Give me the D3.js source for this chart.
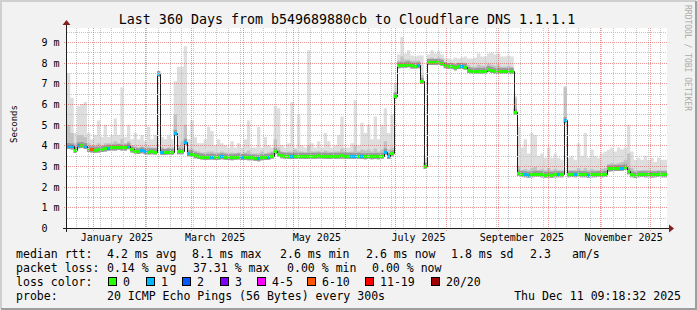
<!DOCTYPE html>
<html>
<head>
<meta charset="utf-8">
<script src="https://cdn.jsdelivr.net/npm/d3@7"></script>
<style>
  body { margin: 0; background: #fff; }
  svg text { font-family: "DejaVu Sans Mono", monospace; }
</style>
</head>
<body>
<script>
// median rtt (ms) per 2-day step
var medianRtt = [
  3.97, 3.95, 3.77, 4.0, 4.02, 3.97, 3.82, 3.8, 3.79, 3.8,
  3.82, 3.85, 3.88, 3.9, 3.9, 3.92, 3.9, 3.9, 3.96, 3.8,
  3.75, 3.73, 3.76, 3.72, 3.7, 3.72, 3.7, 7.45, 3.69, 3.68,
  3.7, 3.69, 4.61, 3.72, 3.72, 4.18, 3.62, 3.6, 3.52, 3.48,
  3.46, 3.44, 3.45, 3.46, 3.44, 3.45, 3.47, 3.45, 3.44, 3.43,
  3.45, 3.46, 3.44, 3.45, 3.43, 3.42, 3.4, 3.38, 3.42, 3.44,
  3.45, 3.5, 3.74, 3.6, 3.52, 3.5, 3.5, 3.49, 3.5, 3.5,
  3.5, 3.49, 3.5, 3.5, 3.5, 3.51, 3.5, 3.5, 3.49, 3.5,
  3.5, 3.5, 3.51, 3.5, 3.5, 3.5, 3.49, 3.5, 3.48, 3.47,
  3.48, 3.47, 3.48, 3.47, 3.5, 3.7, 3.48, 3.62, 6.4, 7.88,
  7.9, 7.9, 7.93, 7.87, 7.86, 7.88, 7.11, 3.0, 8.03, 8.04,
  8.03, 8.03, 8.0, 7.88, 7.84, 7.84, 7.78, 7.84, 7.84, 7.8,
  7.65, 7.61, 7.6, 7.61, 7.6, 7.62, 7.69, 7.65, 7.6, 7.61,
  7.6, 7.6, 7.61, 7.6, 5.63, 2.68, 2.62, 2.6, 2.58, 2.6,
  2.62, 2.63, 2.6, 2.58, 2.59, 2.58, 2.6, 2.6, 2.6, 5.22,
  2.6, 2.61, 2.6, 2.62, 2.6, 2.6, 2.58, 2.6, 2.6, 2.61,
  2.6, 2.62, 2.88, 2.89, 2.9, 2.9, 2.92, 2.96, 2.75, 2.6,
  2.56, 2.6, 2.61, 2.6, 2.6, 2.59, 2.6, 2.61, 2.6, 2.6
];

// top of the dense (dark) smoke
var smokeMid = [
  5.0, 4.6, 4.1, 4.5, 4.5, 4.4, 4.1, 4.0, 4.0, 4.1,
  4.0, 4.1, 4.1, 4.1, 4.2, 4.1, 4.3, 4.1, 4.2, 4.0,
  3.95, 3.9, 3.95, 3.9, 3.95, 3.9, 3.9, 7.45, 3.9, 3.85,
  3.9, 3.9, 5.5, 4.0, 4.2, 5.0, 3.85, 3.85, 3.75, 3.7,
  3.65, 3.65, 3.7, 3.7, 3.65, 3.65, 3.7, 3.65, 3.62, 3.65,
  3.62, 3.65, 3.6, 3.65, 3.75, 3.6, 3.6, 3.62, 3.7, 3.62,
  3.65, 3.7, 4.3, 3.9, 3.7, 3.68, 3.7, 3.7, 3.8, 3.72,
  3.7, 3.68, 4.0, 3.7, 3.7, 3.72, 3.68, 3.75, 3.7, 3.68,
  3.7, 3.72, 3.85, 3.7, 3.68, 3.7, 4.0, 3.7, 3.8, 3.75,
  3.8, 3.7, 3.85, 3.7, 3.8, 4.2, 3.8, 3.9, 6.6, 8.1,
  8.3, 8.15, 8.15, 8.1, 8.1, 8.1, 7.4, 3.2, 8.2, 8.25,
  8.2, 8.25, 8.2, 8.0, 7.98, 7.95, 7.95, 8.0, 8.0, 8.0,
  7.9, 7.8, 7.8, 7.9, 7.85, 7.85, 7.95, 7.9, 7.85, 7.9,
  7.8, 7.8, 7.85, 7.8, 6.3, 3.0, 2.8, 2.85, 2.8, 2.9,
  2.95, 2.8, 2.85, 2.8, 2.9, 2.8, 2.85, 2.8, 2.8, 6.8,
  2.8, 2.8, 2.8, 2.9, 2.8, 2.9, 2.8, 2.85, 2.8, 2.8,
  2.85, 2.9, 3.1, 3.15, 3.1, 3.15, 3.2, 3.3, 3.6, 2.9,
  2.8, 2.8, 2.8, 2.82, 2.8, 2.8, 2.78, 2.8, 2.8, 2.8
];

// top of the light smoke (slowest pings)
var smokeMax = [
  7.5, 6.3, 4.6, 5.9, 6.0, 6.1, 4.6, 4.3, 4.5, 5.2,
  4.4, 5.0, 4.4, 4.5, 5.3, 4.5, 6.8, 4.4, 5.0, 4.3,
  4.6, 4.3, 4.5, 4.2, 4.9, 4.3, 4.5, 7.55, 4.4, 4.3,
  4.5, 4.3, 7.1, 7.8, 7.8, 8.8, 4.3, 5.2, 4.4, 4.1,
  4.1, 4.3, 4.9, 4.7, 4.0, 4.3, 4.1, 4.0, 3.9, 4.2,
  3.9, 4.1, 3.9, 4.3, 5.2, 3.9, 3.9, 4.9, 3.9, 4.4,
  4.0, 3.9, 5.9, 5.8, 4.0, 3.9, 4.1, 6.1, 3.9, 5.5,
  4.0, 3.9, 8.6, 4.1, 3.9, 4.2, 3.9, 4.6, 4.2, 3.9,
  4.0, 4.5, 5.4, 3.9, 3.9, 4.1, 6.2, 4.0, 5.1, 4.6,
  5.0, 4.3, 5.4, 4.3, 5.0, 5.8, 4.6, 5.5, 7.0, 8.4,
  9.25, 8.45, 8.6, 8.35, 8.3, 8.35, 8.35, 3.4, 8.4, 8.6,
  8.45, 8.55, 8.4, 8.2, 8.2, 8.15, 8.25, 8.2, 8.25, 8.3,
  8.2, 8.2, 8.25, 8.45, 8.3, 8.3, 8.45, 8.5, 8.4, 8.45,
  8.3, 8.3, 8.35, 8.3, 6.4, 4.9, 3.9, 4.3, 3.6, 4.6,
  4.5, 3.5, 3.6, 3.4, 3.9, 3.4, 3.6, 3.4, 3.3, 6.87,
  3.4, 3.5, 3.3, 4.1, 3.5, 4.6, 3.4, 3.8, 3.5, 3.4,
  3.6, 3.7, 3.8, 3.9, 3.7, 3.9, 3.8, 3.9, 5.0, 3.7,
  3.3, 3.4, 3.3, 3.5, 3.3, 3.4, 3.2, 3.4, 3.3, 3.3
];

// [step index, loss colour index]; all other steps had no loss
var lossPoints = [
  [0,1],[1,1],[3,1],[5,1],[7,5],[12,1],[18,1],[22,1],[23,1],[27,1],[28,1],
  [32,1],[35,1],[36,1],[43,1],[46,1],[52,1],[57,1],[60,1],[67,1],[85,1],
  [86,1],[88,1],[95,1],[96,1],[105,1],[118,1],[137,1],[138,1],[147,1],
  [149,1],[152,1],[156,1],[166,1]
];

var lossLabels = ["0", "1", "2", "3", "4-5", "6-10", "11-19", "20/20"];
var lossColors = ["#26ff00", "#00b8ff", "#0059ff", "#7e00ff", "#ff00ff", "#ff5500", "#ff0000", "#a10000"];

var yTicks = [0, 1, 2, 3, 4, 5, 6, 7, 8, 9];
var yTickLabels = ["0", "1 m", "2 m", "3 m", "4 m", "5 m", "6 m", "7 m", "8 m", "9 m"];

var xLabelDates = [new Date(2025, 0, 15), new Date(2025, 2, 15), new Date(2025, 4, 15),
                   new Date(2025, 6, 15), new Date(2025, 8, 15), new Date(2025, 10, 15)];
var xLabels = ["January 2025", "March 2025", "May 2025", "July 2025", "September 2025", "November 2025"];

var rttStats = ["4.2 ms avg", "8.1 ms max", "2.6 ms min", "2.6 ms now", "1.8 ms sd", "2.3", "am/s"];
var lossStats = ["0.14 % avg", "37.31 % max", "0.00 % min", "0.00 % now"];

var title = "Last 360 Days from b549689880cb to Cloudflare DNS 1.1.1.1";
var probeText = "20 ICMP Echo Pings (56 Bytes) every 300s";
var stampText = "Thu Dec 11 09:18:32 2025";

var endTime = new Date(2025, 11, 11, 9, 18, 32);
var startTime = d3.timeDay.offset(endTime, -360);
var stepDays = 2;

var width = 697, height = 310;
var plot = {left: 67, right: 667, top: 28, bottom: 228};

var x = d3.scaleTime().domain([startTime, endTime]).range([plot.left, plot.right]);
var y = d3.scaleLinear().domain([0, 9.68]).range([plot.bottom, plot.top]);

var points = medianRtt.map(function(m, i) {
  return {t: d3.timeDay.offset(startTime, i * stepDays), median: m, mid: smokeMid[i], max: smokeMax[i], loss: 0};
});
lossPoints.forEach(function(p) { points[p[0]].loss = p[1]; });
var stepPts = points.concat([Object.assign({}, points[points.length - 1], {t: endTime})]);

var svg = d3.select("body").append("svg")
  .attr("width", width)
  .attr("height", height);

// background + 3d frame
svg.append("rect").attr("width", width).attr("height", height).attr("fill", "#f2f2f2");
svg.append("path").attr("d", "M1,309V1H696").attr("fill", "none").attr("stroke", "#cfcfcf").attr("stroke-width", 2);
svg.append("path").attr("d", "M1,309H696V1").attr("fill", "none").attr("stroke", "#9e9e9e").attr("stroke-width", 2);

svg.append("rect")
  .attr("x", plot.left).attr("y", plot.top)
  .attr("width", plot.right - plot.left).attr("height", plot.bottom - plot.top)
  .attr("fill", "#fff");

svg.append("clipPath").attr("id", "clip")
  .append("rect")
  .attr("x", plot.left).attr("y", plot.top)
  .attr("width", plot.right - plot.left).attr("height", plot.bottom - plot.top);

var g = svg.append("g").attr("clip-path", "url(#clip)");

function smoke(top) {
  return d3.area().curve(d3.curveStepAfter)
    .x(function(d) { return x(d.t); })
    .y0(function(d) { return y(d.median) + 3; })
    .y1(top);
}

g.append("path").datum(stepPts)
  .attr("d", smoke(function(d) { return y(d.max); }))
  .attr("fill", "#dedede");
g.append("path").datum(stepPts)
  .attr("d", smoke(function(d) { return y(d.mid); }))
  .attr("fill", "#c2c2c2");
g.append("path").datum(stepPts)
  .attr("d", smoke(function(d) { return y(d.median) - 3; }))
  .attr("fill", "#9a9a9a");

g.append("path").datum(stepPts)
  .attr("d", d3.line().curve(d3.curveStepAfter)
    .x(function(d) { return Math.round(x(d.t)) + 0.5; })
    .y(function(d) { return Math.round(y(d.median)) + 0.5; }))
  .attr("fill", "none")
  .attr("stroke", "#202020")
  .attr("stroke-width", 1);

g.selectAll(".loss").data(points)
  .enter().append("rect")
  .attr("class", "loss")
  .attr("x", function(d) { return Math.round(x(d.t)); })
  .attr("width", function(d) { return Math.round(x(d3.timeDay.offset(d.t, stepDays))) - Math.round(x(d.t)); })
  .attr("y", function(d) { return Math.round(y(d.median)) - 1; })
  .attr("height", 3)
  .attr("fill", function(d) { return lossColors[d.loss]; });

// grid on top
var grid = svg.append("g").attr("fill", "none").attr("stroke-dasharray", "1,1");
y.ticks(20).filter(function(v) { return v % 1 !== 0; }).forEach(function(v) {
  var yy = Math.round(y(v)) + 0.5;
  grid.append("line").attr("x1", plot.left).attr("x2", plot.right)
    .attr("y1", yy).attr("y2", yy).attr("stroke", "#c4c4c4");
});
d3.timeWeek.range(startTime, endTime).forEach(function(t) {
  var xx = Math.round(x(t)) + 0.5;
  grid.append("line").attr("x1", xx).attr("x2", xx)
    .attr("y1", plot.top).attr("y2", plot.bottom).attr("stroke", "#c4c4c4");
});
yTicks.slice(1).forEach(function(v) {
  var yy = Math.round(y(v)) + 0.5;
  grid.append("line").attr("x1", plot.left - 3).attr("x2", plot.right)
    .attr("y1", yy).attr("y2", yy).attr("stroke", "rgba(222,79,79,0.6)");
});
d3.timeMonth.range(startTime, endTime).forEach(function(t) {
  var xx = Math.round(x(t)) + 0.5;
  grid.append("line").attr("x1", xx).attr("x2", xx)
    .attr("y1", plot.top).attr("y2", plot.bottom + 3).attr("stroke", "rgba(222,79,79,0.6)");
});

// axes
svg.append("line").attr("x1", 63).attr("x2", 670).attr("y1", 228.5).attr("y2", 228.5).attr("stroke", "#1f1f1f");
svg.append("line").attr("x1", 66.5).attr("x2", 66.5).attr("y1", 232).attr("y2", 24).attr("stroke", "#1f1f1f");
svg.append("path").attr("d", "M669,224.5L674,228.5L669,232.5Z").attr("fill", "#801f1f");
svg.append("path").attr("d", "M62.5,25L66.5,20L70.5,25Z").attr("fill", "#801f1f");

var yAxis = d3.axisLeft(y).tickValues(yTicks).tickSize(0)
  .tickFormat(function(d) { return yTickLabels[yTicks.indexOf(d)]; });
var gy = svg.append("g").attr("transform", "translate(" + plot.left + ",0)").call(yAxis);
gy.select(".domain").remove();
gy.attr("font-family", "DejaVu Sans Mono, monospace").attr("font-size", 10);
gy.selectAll("text").attr("x", -25.5).attr("text-anchor", "start").attr("dy", "0.36em").attr("fill", "#000");

var xAxis = d3.axisBottom(x).tickValues(xLabelDates).tickSize(0).tickPadding(6)
  .tickFormat(function(d, i) { return xLabels[i]; });
var gx = svg.append("g").attr("transform", "translate(0," + plot.bottom + ")").call(xAxis);
gx.select(".domain").remove();
gx.attr("font-family", "DejaVu Sans Mono, monospace").attr("font-size", 10);
gx.selectAll("text").attr("fill", "#000");

// titles
svg.append("text").attr("x", 347).attr("y", 23.5).attr("text-anchor", "middle")
  .style("font-size", "13.3px").text(title);
svg.append("text").attr("transform", "translate(16.5,124) rotate(-90)").attr("text-anchor", "middle")
  .style("font-size", "9px").text("Seconds");
svg.append("text").attr("transform", "translate(685,5) rotate(90)")
  .style("font-size", "8px").attr("fill", "#ababab").text("RRDTOOL / TOBI OETIKER");

// legend
var legend = svg.append("g").style("font-size", "11.55px").attr("xml:space", "preserve");
function ltext(xx, yy, s) { legend.append("text").attr("x", xx).attr("y", yy).text(s); }

ltext(16, 258, "median rtt:");
[107, 192, 280, 366, 451, 530, 572].forEach(function(xx, i) { ltext(xx, 258, rttStats[i]); });
ltext(16, 272, "packet loss:");
[107, 193, 287, 372].forEach(function(xx, i) { ltext(xx, 272, lossStats[i]); });
ltext(16, 286, "loss color:");
var boxX = [108, 146, 182, 220, 257, 307, 365, 431];
lossLabels.forEach(function(lbl, i) {
  legend.append("rect").attr("x", boxX[i] + 0.5).attr("y", 277.5).attr("width", 8).attr("height", 8)
    .attr("fill", lossColors[i]).attr("stroke", "#000");
  ltext(boxX[i] + 15, 286, lbl);
});
ltext(16, 300, "probe:");
ltext(107, 300, probeText);
legend.append("text").attr("x", 681).attr("y", 300).attr("text-anchor", "end").text(stampText);
</script>
</body>
</html>
